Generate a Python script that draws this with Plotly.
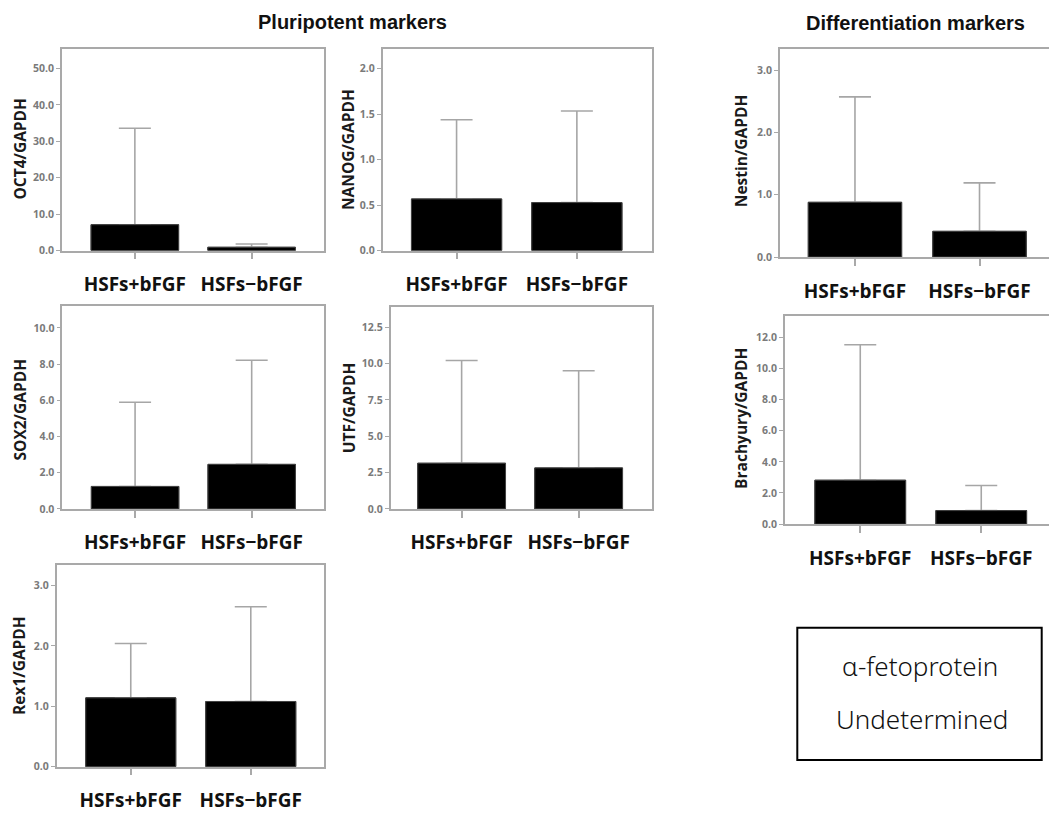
import plotly.graph_objects as go

W, H = 1049, 816

categories = ["HSFs+bFGF", "HSFs\u2212bFGF"]

# means and upper error-bar ends (mean + SD)
oct4_mean = [7.1, 0.9]
oct4_upper = [33.6, 1.8]
nanog_mean = [0.567, 0.527]
nanog_upper = [1.437, 1.534]
nestin_mean = [0.879, 0.413]
nestin_upper = [2.57, 1.19]
sox2_mean = [1.24, 2.46]
sox2_upper = [5.89, 8.21]
utf_mean = [3.14, 2.82]
utf_upper = [10.2, 9.5]
brachyury_mean = [2.82, 0.87]
brachyury_upper = [11.51, 2.48]
rex1_mean = [1.14, 1.08]
rex1_upper = [2.04, 2.65]

def px(x):
    return x / W

def py(y):
    return 1 - y / H

panels = [
    ("OCT4/GAPDH", oct4_mean, oct4_upper, (62, 324), (49, 252.7), 55.5, 10, (-0.624, 1.62), True, (20, 150.8)),
    ("NANOG/GAPDH", nanog_mean, nanog_upper, (382.7, 651.7), (49, 252.7), 2.22, 0.5, (-0.614, 1.622), True, (347.5, 150.8)),
    ("Nestin/GAPDH", nestin_mean, nestin_upper, (780, 1049), (49.3, 259.3), 3.34, 1, (-0.602, 1.558), False, (741, 152.5)),
    ("SOX2/GAPDH", sox2_mean, sox2_upper, (62.3, 324), (309, 513.3), 11.19, 2, (-0.624, 1.62), True, (19.7, 413.3)),
    ("UTF/GAPDH", utf_mean, utf_upper, (390.7, 651.7), (310, 513.3), 13.86, 2.5, (-0.606, 1.624), True, (349, 411.7)),
    ("Brachyury/GAPDH", brachyury_mean, brachyury_upper, (785, 1049), (319, 528.7), 13.34, 2, (-0.622, 1.56), False, (741, 422.5)),
    ("Rex1/GAPDH", rex1_mean, rex1_upper, (56.7, 324), (570, 773.3), 3.34, 1, (-0.617, 1.61), True, (19, 671.7)),
]

fig = go.Figure()
annotations = []
frame_col = "#a9a9a9"
for i, (title, mean, upper, xd, yd, ymax, dtick, xr, right_frame, tpos) in enumerate(panels, start=1):
    xa = "x" if i == 1 else f"x{i}"
    ya = "y" if i == 1 else f"y{i}"
    err = [u - m for u, m in zip(upper, mean)]
    # bar carrying the error bar (drawn first)
    fig.add_trace(go.Bar(
        x=categories, y=mean, xaxis=xa, yaxis=ya, width=0.75,
        marker=dict(color="black", line=dict(color="#444", width=1)),
        error_y=dict(type="data", symmetric=False, array=err, arrayminus=[0, 0],
                     color="#a6a6a6", thickness=1.6, width=16),
        showlegend=False, hoverinfo="skip",
    ))
    # same bar on top, hiding the error bar's lower cap
    fig.add_trace(go.Bar(
        x=categories, y=mean, xaxis=xa, yaxis=ya, width=0.75,
        marker=dict(color="black", line=dict(color="#444", width=1)),
        showlegend=False,
    ))
    xkey = "xaxis" if i == 1 else f"xaxis{i}"
    ykey = "yaxis" if i == 1 else f"yaxis{i}"
    fig.layout[xkey] = dict(
        domain=[px(xd[0]), px(xd[1])], anchor=ya, type="category",
        range=list(xr), showline=True, mirror=True, linecolor=frame_col, linewidth=1.6,
        ticks="outside", ticklen=7, tickcolor=frame_col, tickwidth=1.6,
        tickfont=dict(family="Open Sans", size=19, color="#111", weight="bold"),
        ticklabelstandoff=9, showgrid=False, zeroline=False, fixedrange=True,
    )
    fig.layout[ykey] = dict(
        domain=[py(yd[1]), py(yd[0])], anchor=xa,
        range=[0, ymax], dtick=dtick, tick0=0, tickformat=".1f",
        showline=True, mirror=right_frame, linecolor=frame_col, linewidth=1.6,
        ticks="outside", ticklen=4, tickcolor=frame_col, tickwidth=1.2,
        tickfont=dict(family="Open Sans", size=10.5, color="#7a7a7a", weight="bold"),
        showgrid=False, zeroline=False, fixedrange=True,
    )
    annotations.append(dict(
        text=title, xref="paper", yref="paper", x=px(tpos[0]), y=py(tpos[1]),
        xanchor="center", yanchor="middle", textangle=-90, showarrow=False,
        font=dict(family="Open Sans", size=15.5, color="#1a1a1a", weight="bold"),
    ))

annotations += [
    dict(text="Pluripotent markers", xref="paper", yref="paper", x=px(352), y=py(21.7),
         xanchor="center", yanchor="middle", showarrow=False,
         font=dict(family="Liberation Sans", size=20, color="#111", weight="bold")),
    dict(text="Differentiation markers", xref="paper", yref="paper", x=px(915.5), y=py(22.7),
         xanchor="center", yanchor="middle", showarrow=False,
         font=dict(family="Liberation Sans", size=20, color="#111", weight="bold")),
    dict(text="\u03b1-fetoprotein", xref="paper", yref="paper", x=px(920), y=py(671.7),
         xanchor="center", yanchor="middle", showarrow=False,
         font=dict(family="Noto Sans", size=26, color="#111", weight=300)),
    dict(text="Undetermined", xref="paper", yref="paper", x=px(921.5), y=py(725),
         xanchor="center", yanchor="middle", showarrow=False,
         font=dict(family="Noto Sans", size=26, color="#111", weight=300)),
]

fig.update_layout(
    width=W, height=H, margin=dict(l=0, r=0, t=0, b=0),
    paper_bgcolor="white", plot_bgcolor="white", barmode="overlay",
    annotations=annotations,
    shapes=[dict(type="rect", xref="paper", yref="paper",
                 x0=px(797.3), x1=px(1041.7), y0=py(766.7), y1=py(633.3),
                 line=dict(color="black", width=2))],
)

fig.write_html("out.html")
